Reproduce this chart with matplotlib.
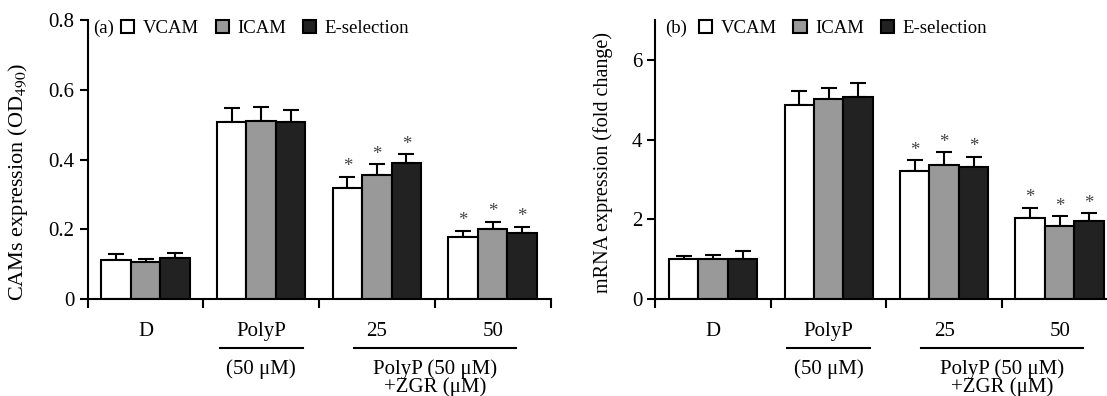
import numpy as np
import matplotlib
matplotlib.use('Agg')
import matplotlib.pyplot as plt
from matplotlib.patches import Patch
from matplotlib.transforms import blended_transform_factory

plt.rcParams['font.family'] = ['Liberation Serif', 'DejaVu Serif']
plt.rcParams['mathtext.fontset'] = 'stix'

groups = ['D', 'PolyP', '25', '50']
series = ['VCAM', 'ICAM', 'E-selection']
colors = ['white', '#999999', '#222222']

# panel (a): CAMs expression (OD490)
cam_mean = {'VCAM': [0.113, 0.508, 0.320, 0.179],
            'ICAM': [0.107, 0.512, 0.356, 0.200],
            'E-selection': [0.118, 0.508, 0.390, 0.189]}
cam_err = {'VCAM': [0.017, 0.039, 0.031, 0.018],
           'ICAM': [0.009, 0.039, 0.031, 0.022],
           'E-selection': [0.015, 0.034, 0.026, 0.019]}

# panel (b): mRNA expression (fold change)
mrna_mean = {'VCAM': [1.00, 4.86, 3.22, 2.04],
             'ICAM': [1.00, 5.01, 3.37, 1.84],
             'E-selection': [1.02, 5.08, 3.31, 1.97]}
mrna_err = {'VCAM': [0.09, 0.35, 0.27, 0.26],
            'ICAM': [0.11, 0.28, 0.31, 0.25],
            'E-selection': [0.19, 0.33, 0.26, 0.19]}

# significance stars (groups 25 and 50)
star_groups = [2, 3]

FS = 15      # tick / category labels
LFS = 13.5   # legend
LW = 1.5


def panel(ax, mean, err, ylim, yticks, yticklabels, ylabel, yl_fs,
          tag, tag_x, leg_x):
    x = np.arange(len(groups))
    w = 0.255
    for i, s in enumerate(series):
        xs = x + (i - 1) * w
        ax.bar(xs, mean[s], w, color=colors[i], edgecolor='black', lw=LW,
               zorder=2)
        ax.errorbar(xs, mean[s], yerr=[np.zeros(len(groups)), err[s]],
                    fmt='none', ecolor='black', elinewidth=LW, capsize=6,
                    capthick=LW, zorder=1)
        for g in star_groups:
            ax.annotate('*', (xs[g], mean[s][g] + err[s][g]),
                        xytext=(0, 1), textcoords='offset points',
                        ha='center', va='bottom', fontsize=LFS,
                        color='#444444')
    ax.set_xlim(-0.5, len(groups) - 0.5)
    ax.set_ylim(*ylim)
    ax.set_yticks(yticks)
    ax.set_yticklabels(yticklabels)
    ax.set_xticks(np.arange(len(groups) + 1) - 0.5)
    ax.set_xticklabels([])
    for side in ('top', 'right'):
        ax.spines[side].set_visible(False)
    for side in ('left', 'bottom'):
        ax.spines[side].set_linewidth(LW)
    ax.tick_params(axis='y', length=5.5, width=LW, labelsize=FS, pad=4)
    ax.tick_params(axis='x', length=6.5, width=LW)
    ax.set_ylabel(ylabel, fontsize=yl_fs)

    tr = blended_transform_factory(ax.transData, ax.transAxes)
    for i, g in enumerate(groups):
        ax.text(i, -0.115, g, transform=tr, ha='center', va='center',
                fontsize=FS)
    ax.plot([1 - 0.36, 1 + 0.36], [-0.175, -0.175], transform=tr,
            color='black', lw=LW, clip_on=False)
    ax.plot([1.8, 3.2], [-0.175, -0.175], transform=tr,
            color='black', lw=LW, clip_on=False)
    ax.text(1, -0.215, '(50 μM)', transform=tr, ha='center', va='top',
            fontsize=FS)
    ax.text(2.5, -0.215, 'PolyP (50 μM)\n+ZGR (μM)', transform=tr,
            ha='center', va='top', fontsize=FS, linespacing=0.88)

    handles = [Patch(facecolor=c, edgecolor='black', lw=LW) for c in colors]
    ax.text(tag_x, 0.97, tag, transform=ax.transAxes, ha='left',
            va='center', fontsize=LFS)
    ax.legend(handles, series, loc='center left',
              bbox_to_anchor=(leg_x, 0.97), ncol=3, frameon=False,
              fontsize=LFS, handlelength=0.7, handleheight=0.7,
              handletextpad=0.45, columnspacing=0.9, borderpad=0,
              borderaxespad=0)


fig = plt.figure(figsize=(11.07, 3.96), dpi=100)
ax1 = fig.add_axes([0.0792, 0.2442, 0.4181, 0.7053])
ax2 = fig.add_axes([0.5921, 0.2442, 0.4173, 0.7053])

panel(ax1, cam_mean, cam_err, (0, 0.8), [0, 0.2, 0.4, 0.6, 0.8],
      ['0', '0.2', '0.4', '0.6', '0.8'], 'CAMs expression (OD$_{490}$)', 16,
      '(a)', 0.0115, 0.072)
panel(ax2, mrna_mean, mrna_err, (0, 7), [0, 2, 4, 6],
      ['0', '2', '4', '6'], 'mRNA expression (fold change)', 14.5,
      '(b)', 0.022, 0.094)
ax1.yaxis.set_label_coords(-0.125, 0.42)
ax2.yaxis.set_label_coords(-0.092, 0.49)

fig.savefig('out.png', dpi=100)
